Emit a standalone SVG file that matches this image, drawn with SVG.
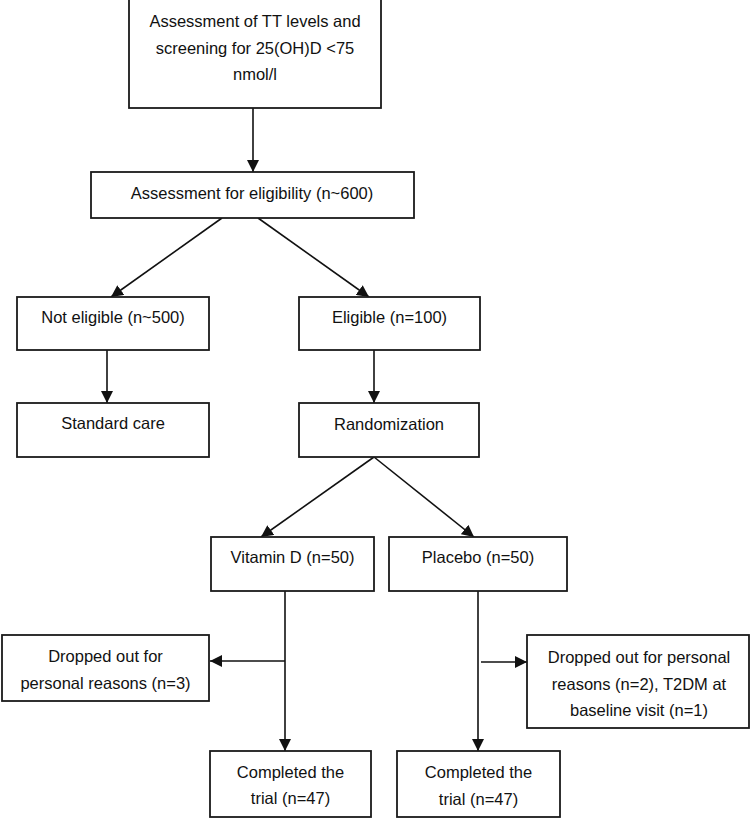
<svg xmlns="http://www.w3.org/2000/svg" width="751" height="818" viewBox="0 0 751 818">
<style>
.box{fill:#fff;stroke:#1a1a1a;stroke-width:1.8}
.t{font-family:"Liberation Sans",Arial,sans-serif;font-size:16.5px;fill:#111;text-anchor:middle}
.c{stroke:#111;stroke-width:1.6;fill:none;marker-end:url(#ah)}
</style>
<defs>
<marker id="ah" markerWidth="12" markerHeight="12" refX="12" refY="6" orient="auto" markerUnits="userSpaceOnUse">
<path d="M0,0 L12,6 L0,12 Z" fill="#111"/>
</marker>
</defs>
<rect width="751" height="818" fill="#fff"/>
<g id="connectors">
<line class="c" x1="253" y1="108" x2="253" y2="172"/>
<line class="c" x1="222" y1="218" x2="111" y2="297"/>
<line class="c" x1="258" y1="218" x2="369" y2="297"/>
<line class="c" x1="107" y1="350" x2="107" y2="403"/>
<line class="c" x1="374" y1="350" x2="374" y2="403"/>
<line class="c" x1="374" y1="457" x2="261" y2="537"/>
<line class="c" x1="374" y1="457" x2="474" y2="537"/>
<line class="c" x1="285" y1="591" x2="285" y2="751"/>
<line class="c" x1="285" y1="661" x2="210" y2="661"/>
<line class="c" x1="478" y1="591" x2="478" y2="751"/>
<line class="c" x1="481" y1="662" x2="527" y2="662"/>
</g>
<g id="n1"><rect class="box" x="129" y="-1" width="252" height="109"/>
<text class="t" x="255" y="27">Assessment of TT levels and</text>
<text class="t" x="255" y="54">screening for 25(OH)D &lt;75</text>
<text class="t" x="255" y="80">nmol/l</text></g>
<g id="n2"><rect class="box" x="91" y="172" width="323" height="46"/>
<text class="t" x="252" y="199">Assessment for eligibility (n~600)</text></g>
<g id="n3"><rect class="box" x="17" y="297" width="192" height="53"/>
<text class="t" x="113" y="323">Not eligible (n~500)</text></g>
<g id="n4"><rect class="box" x="299" y="297" width="181" height="53"/>
<text class="t" x="389.5" y="323">Eligible (n=100)</text></g>
<g id="n5"><rect class="box" x="17" y="403" width="192" height="54"/>
<text class="t" x="113" y="429">Standard care</text></g>
<g id="n6"><rect class="box" x="299" y="403" width="180" height="54"/>
<text class="t" x="389" y="430">Randomization</text></g>
<g id="n7"><rect class="box" x="211" y="537" width="163" height="54"/>
<text class="t" x="292.5" y="563">Vitamin D (n=50)</text></g>
<g id="n8"><rect class="box" x="389" y="537" width="178" height="54"/>
<text class="t" x="478" y="563">Placebo (n=50)</text></g>
<g id="n9"><rect class="box" x="2" y="635" width="207" height="66"/>
<text class="t" x="105.5" y="662">Dropped out for</text>
<text class="t" x="105.5" y="689">personal reasons (n=3)</text></g>
<g id="n10"><rect class="box" x="527" y="635" width="222" height="93"/>
<text class="t" x="639" y="663">Dropped out for personal</text>
<text class="t" x="639" y="690">reasons (n=2), T2DM at</text>
<text class="t" x="639" y="716">baseline visit (n=1)</text></g>
<g id="n11"><rect class="box" x="210" y="751" width="161" height="66"/>
<text class="t" x="290.5" y="778">Completed the</text>
<text class="t" x="290.5" y="804">trial (n=47)</text></g>
<g id="n12"><rect class="box" x="397" y="751" width="163" height="66"/>
<text class="t" x="478.5" y="778">Completed the</text>
<text class="t" x="478.5" y="805">trial (n=47)</text></g>
</svg>
